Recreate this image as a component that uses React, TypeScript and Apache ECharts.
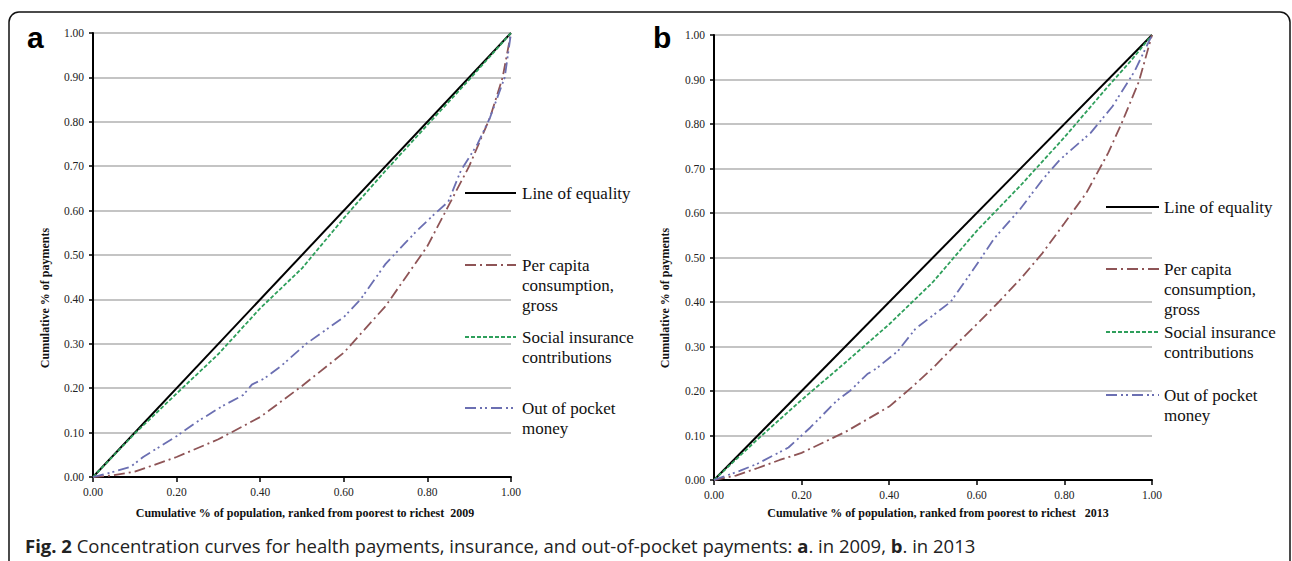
import React, { useEffect, useRef } from "react";
import * as echarts from "echarts";

// ---------- Data ----------
const X_TICKS = [0, 0.2, 0.4, 0.6, 0.8, 1.0];
const Y_TICKS = [0, 0.1, 0.2, 0.3, 0.4, 0.5, 0.6, 0.7, 0.8, 0.9, 1.0];

const EQ_X = [0, 1];
const EQ_Y = [0, 1];

// 2009
const PC09_X = [0, 0.05, 0.1, 0.2, 0.3, 0.4, 0.5, 0.6, 0.7, 0.8, 0.85, 0.9, 0.95, 0.98, 1.0];
const PC09_Y = [0, 0.004, 0.012, 0.045, 0.085, 0.135, 0.205, 0.28, 0.385, 0.52, 0.61, 0.7, 0.81, 0.9, 1.0];
const SI09_X = [0, 0.1, 0.2, 0.3, 0.4, 0.5, 0.6, 0.7, 0.8, 0.9, 1.0];
const SI09_Y = [0, 0.098, 0.188, 0.277, 0.38, 0.47, 0.583, 0.69, 0.793, 0.895, 1.0];
const OOP09_X = [0, 0.05, 0.09, 0.12, 0.2, 0.25, 0.31, 0.36, 0.38, 0.41, 0.45, 0.51, 0.6, 0.64, 0.7, 0.72, 0.77, 0.82, 0.85, 0.88, 0.92, 0.95, 0.985, 1.0];
const OOP09_Y = [0, 0.012, 0.023, 0.045, 0.092, 0.125, 0.16, 0.185, 0.208, 0.222, 0.25, 0.3, 0.36, 0.4, 0.48, 0.5, 0.55, 0.595, 0.62, 0.69, 0.75, 0.81, 0.9, 1.0];

// 2013
const PC13_X = [0, 0.05, 0.1, 0.15, 0.2, 0.3, 0.4, 0.45, 0.5, 0.55, 0.6, 0.65, 0.7, 0.75, 0.8, 0.85, 0.9, 0.93, 0.97, 1.0];
const PC13_Y = [0, 0.01, 0.027, 0.045, 0.061, 0.108, 0.165, 0.207, 0.252, 0.302, 0.35, 0.4, 0.452, 0.51, 0.577, 0.645, 0.735, 0.8, 0.895, 1.0];
const SI13_X = [0, 0.1, 0.2, 0.3, 0.4, 0.5, 0.6, 0.7, 0.8, 0.9, 0.95, 1.0];
const SI13_Y = [0, 0.092, 0.18, 0.264, 0.35, 0.445, 0.56, 0.662, 0.77, 0.885, 0.94, 1.0];
const OOP13_X = [0, 0.02, 0.06, 0.1, 0.17, 0.22, 0.28, 0.31, 0.35, 0.37, 0.42, 0.46, 0.5, 0.54, 0.59, 0.64, 0.7, 0.75, 0.79, 0.86, 0.91, 0.96, 1.0];
const OOP13_Y = [0, 0.007, 0.021, 0.037, 0.073, 0.118, 0.178, 0.2, 0.238, 0.25, 0.29, 0.34, 0.37, 0.4, 0.47, 0.543, 0.61, 0.675, 0.72, 0.78, 0.84, 0.918, 1.0];

const LEGEND_LINES = ["Line of equality", "Per capita\nconsumption,\ngross", "Social insurance\ncontributions", "Out of pocket\nmoney"];
const X_TITLES = [
  "Cumulative % of population, ranked from poorest to richest  2009",
  "Cumulative % of population, ranked from poorest to richest   2013",
];
const Y_TITLE = "Cumulative % of payments";
const PANEL_LABELS = ["a", "b"];

// ---------- Styles ----------
const C_EQ = "#000000";
const C_PC = "#8E5456";
const C_SI = "#2E9F5B";
const C_OOP = "#6B6FB2";
const DASH_PC = [11, 4, 2, 4];
const DASH_SI = [4, 2];
const DASH_OOP = [11, 4, 2, 3, 2, 4];
const SERIF = "'Liberation Serif', 'Times New Roman', serif";

const pairs = (xs: number[], ys: number[]) => xs.map((x, i) => [x, ys[i]]);

export default function App() {
  const ref = useRef<HTMLDivElement>(null);

  useEffect(() => {
    document.body.style.margin = "0";
    if (!ref.current) return;
    const chart = echarts.init(ref.current, undefined, { renderer: "svg" });

    const grids = [
      { left: 93, top: 33, width: 418, height: 444 },
      { left: 714, top: 35, width: 438, height: 445 },
    ];

    const xAxis = grids.map((_, i) => ({
      type: "value",
      gridIndex: i,
      min: X_TICKS[0],
      max: X_TICKS[X_TICKS.length - 1],
      interval: 0.2,
      axisLine: { show: true, lineStyle: { color: "#000", width: 2 } },
      axisTick: { show: true, length: 5, lineStyle: { color: "#000", width: 1.5 } },
      axisLabel: {
        formatter: (v: number) => v.toFixed(2),
        fontFamily: SERIF,
        fontSize: 11.5,
        color: "#222",
        margin: 9,
      },
      splitLine: { show: false },
    }));

    const yAxis = grids.map((_, i) => ({
      type: "value",
      gridIndex: i,
      min: Y_TICKS[0],
      max: Y_TICKS[Y_TICKS.length - 1],
      interval: 0.1,
      axisLine: { show: true, lineStyle: { color: "#000", width: 2 } },
      axisTick: { show: true, length: 4, lineStyle: { color: "#000", width: 1.5 } },
      axisLabel: {
        formatter: (v: number) => v.toFixed(2),
        fontFamily: SERIF,
        fontSize: 11.5,
        color: "#222",
        margin: 9,
      },
      splitLine: { show: true, lineStyle: { color: "#C4C4C4", width: 2 } },
    }));

    const mk = (name: string, idx: number, data: number[][], color: string, dash: any, width: number) => ({
      name,
      type: "line",
      xAxisIndex: idx,
      yAxisIndex: idx,
      data,
      showSymbol: false,
      symbol: "none",
      lineStyle: { color, width, type: dash },
      z: 3,
    });

    const series = [
      mk("eq09", 0, pairs(EQ_X, EQ_Y), C_EQ, "solid", 2),
      mk("si09", 0, pairs(SI09_X, SI09_Y), C_SI, DASH_SI, 1.8),
      mk("pc09", 0, pairs(PC09_X, PC09_Y), C_PC, DASH_PC, 1.8),
      mk("oop09", 0, pairs(OOP09_X, OOP09_Y), C_OOP, DASH_OOP, 1.8),
      mk("eq13", 1, pairs(EQ_X, EQ_Y), C_EQ, "solid", 2),
      mk("si13", 1, pairs(SI13_X, SI13_Y), C_SI, DASH_SI, 1.8),
      mk("pc13", 1, pairs(PC13_X, PC13_Y), C_PC, DASH_PC, 1.8),
      mk("oop13", 1, pairs(OOP13_X, OOP13_Y), C_OOP, DASH_OOP, 1.8),
    ];

    const legendStyles = [
      { color: C_EQ, dash: null },
      { color: C_PC, dash: DASH_PC },
      { color: C_SI, dash: DASH_SI },
      { color: C_OOP, dash: DASH_OOP },
    ];
    const legendPos = [
      { x1: 465, x2: 516, tx: 522, ys: [193, 265, 337, 408] },
      { x1: 1106, x2: 1159, tx: 1164, ys: [207, 269, 332, 395] },
    ];

    const graphic: any[] = [];
    graphic.push({
      type: "rect",
      shape: { x: 9, y: 12, width: 1281, height: 620, r: 10 },
      style: { fill: "none", stroke: "#111", lineWidth: 1.5 },
      silent: true,
    });
    legendPos.forEach((p) => {
      LEGEND_LINES.forEach((label, i) => {
        const st = legendStyles[i];
        graphic.push({
          type: "line",
          shape: { x1: p.x1, y1: p.ys[i], x2: p.x2, y2: p.ys[i] },
          style: { stroke: st.color, lineWidth: 2, lineDash: st.dash || undefined },
        });
        graphic.push({
          type: "text",
          x: p.tx,
          y: p.ys[i] - 10,
          style: {
            text: label,
            font: `17px ${SERIF}`,
            fill: "#111",
            lineHeight: 20,
            textAlign: "left",
            textVerticalAlign: "top",
          },
        });
      });
    });
    // panel letters
    const letterPos = [
      { x: 27, y: 52 },
      { x: 653, y: 52 },
    ];
    PANEL_LABELS.forEach((t, i) => {
      graphic.push({
        type: "text",
        x: letterPos[i].x,
        y: letterPos[i].y,
        style: {
          text: t,
          font: "bold 30px 'Liberation Sans', Arial, sans-serif",
          fill: "#000",
          textAlign: "left",
          textVerticalAlign: "bottom",
        },
      });
    });
    // axis titles
    const xTitlePos = [
      { x: 305, y: 513 },
      { x: 938, y: 513 },
    ];
    X_TITLES.forEach((t, i) => {
      graphic.push({
        type: "text",
        x: xTitlePos[i].x,
        y: xTitlePos[i].y,
        style: {
          text: t,
          font: `bold 12px ${SERIF}`,
          fill: "#111",
          textAlign: "center",
          textVerticalAlign: "middle",
        },
      });
    });
    const yTitlePos = [
      { x: 45, y: 298 },
      { x: 665, y: 298 },
    ];
    yTitlePos.forEach((p) => {
      graphic.push({
        type: "text",
        x: p.x,
        y: p.y,
        rotation: Math.PI / 2,
        style: {
          text: Y_TITLE,
          font: `bold 12px ${SERIF}`,
          fill: "#111",
          textAlign: "center",
          textVerticalAlign: "middle",
        },
      });
    });
    // caption
    graphic.push({
      type: "text",
      x: 25,
      y: 545,
      style: {
        text:
          "{b|Fig. 2} Concentration curves for health payments, insurance, and out-of-pocket payments: {b|a}. in 2009, {b|b}. in 2013",
        font: "18.5px 'Open Sans', sans-serif",
        fill: "#222",
        textAlign: "left",
        textVerticalAlign: "middle",
        rich: {
          b: { fontWeight: "bold", fontFamily: "'Open Sans', sans-serif", fontSize: 18.5, fill: "#222" },
        },
      },
    });

    chart.setOption({
      animation: false,
      backgroundColor: "#fff",
      grid: grids.map((g) => ({ ...g, containLabel: false })),
      xAxis,
      yAxis,
      series,
      graphic,
    });

    return () => chart.dispose();
  }, []);

  return <div ref={ref} style={{ width: 1292, height: 561 }} />;
}
